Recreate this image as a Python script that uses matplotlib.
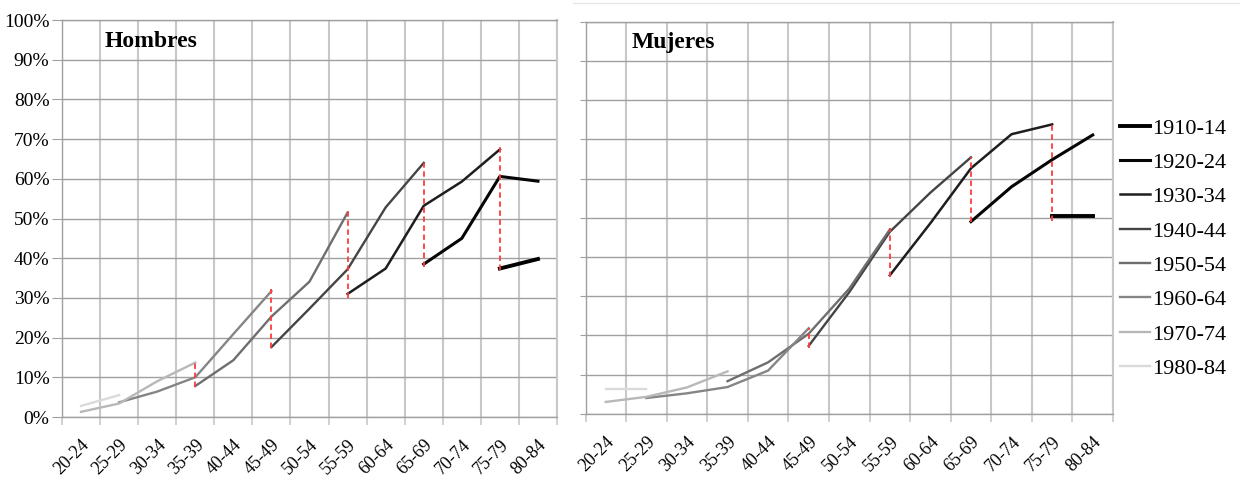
import numpy as np
import matplotlib.pyplot as plt
from matplotlib.lines import Line2D
from matplotlib.ticker import PercentFormatter
from matplotlib.transforms import ScaledTranslation

plt.rcParams['font.family'] = ['Liberation Serif', 'DejaVu Serif']

nan = np.nan

ages = ['20-24', '25-29', '30-34', '35-39', '40-44', '45-49', '50-54',
        '55-59', '60-64', '65-69', '70-74', '75-79', '80-84']
cohorts = ['1910-14', '1920-24', '1930-34', '1940-44',
           '1950-54', '1960-64', '1970-74', '1980-84']

# percentages per cohort, one value per age group (nan = not observed)
hombres = {
    '1910-14': [nan] * 11 + [37.4, 39.8],
    '1920-24': [nan] * 9 + [38.5, 45.0, 60.6, 59.4],
    '1930-34': [nan] * 7 + [31.0, 37.4, 53.2, 59.3, 67.4, nan],
    '1940-44': [nan] * 5 + [17.6, 27.3, 37.2, 52.8, 64.0] + [nan] * 3,
    '1950-54': [nan] * 3 + [7.8, 14.3, 25.3, 34.1, 51.5] + [nan] * 5,
    '1960-64': [nan] + [3.7, 6.4, 10.0, 20.9, 31.7] + [nan] * 7,
    '1970-74': [1.3, 3.4, 9.0, 13.7] + [nan] * 9,
    '1980-84': [2.8, 5.5] + [nan] * 11,
}
mujeres = {
    '1910-14': [nan] * 11 + [50.5, 50.5],
    '1920-24': [nan] * 9 + [49.0, 57.9, 64.8, 71.1],
    '1930-34': [nan] * 7 + [35.3, 48.6, 62.6, 71.3, 73.8, nan],
    '1940-44': [nan] * 5 + [17.3, 31.0, 46.4, 56.4, 65.4] + [nan] * 3,
    '1950-54': [nan] * 3 + [8.3, 13.1, 20.4, 31.9, 47.0] + [nan] * 5,
    '1960-64': [nan] + [4.0, 5.2, 6.8, 11.0, 21.8] + [nan] * 7,
    '1970-74': [3.0, 4.3, 6.7, 10.8] + [nan] * 9,
    '1980-84': [6.3, 6.3] + [nan] * 11,
}

# red dashed jumps: (age group, top, bottom)
h_breaks = [('35-39', 13.9, 7.5), ('45-49', 32.2, 17.5), ('55-59', 52.6, 30.1),
            ('65-69', 63.9, 37.9), ('75-79', 68.3, 37.0)]
m_breaks = [('45-49', 21.9, 16.7), ('55-59', 47.3, 35.0),
            ('65-69', 65.6, 48.8), ('75-79', 74.2, 49.2)]

colors = ['#000000', '#050505', '#1e1e1e', '#444444',
          '#6e6e6e', '#858585', '#b8b8b8', '#dadada']
widths = [2.8, 2.2, 1.8, 1.7, 1.7, 1.7, 1.7, 1.7]

hgrid = '#a0a0a0'
vgrid = '#c8c8c8'


def draw_panel(ax, data, breaks, title, ylabels=True):
    x = np.arange(len(ages))
    for c, col, lw in zip(cohorts, colors, widths):
        ax.plot(x, data[c], color=col, lw=lw, label=c, zorder=2)
    for age, top, bottom in breaks:
        i = ages.index(age)
        ax.vlines(i, bottom, top, colors='#ff3b3b', linestyles=(0, (3, 2)),
                  lw=1.3, zorder=3)
    ax.set_xlim(-0.5, len(ages) - 0.5)
    ax.set_ylim(0, 100)
    ax.set_yticks(np.arange(0, 101, 10))
    ax.yaxis.set_major_formatter(PercentFormatter(xmax=100, decimals=0))
    if not ylabels:
        ax.set_yticklabels([])
    ax.set_xticks(np.arange(len(ages) + 1) - 0.5)
    ax.set_xticklabels([])
    ax.set_xticks(x, minor=True)
    ax.set_xticklabels(ages, minor=True, rotation=45, ha='right', va='top',
                       rotation_mode='anchor', fontsize=13)
    # nudge rotated labels left so they end at the category centre
    shift = ScaledTranslation(-0.09, 0, ax.figure.dpi_scale_trans)
    for lab in ax.get_xticklabels(minor=True):
        lab.set_transform(lab.get_transform() + shift)
    ax.tick_params(axis='x', which='minor', length=0, pad=14)
    ax.tick_params(axis='x', which='major', length=6, color=vgrid, width=1.2)
    ax.tick_params(axis='y', length=7 if ylabels else 4, color=hgrid,
                   labelsize=14, pad=2)
    ax.grid(axis='y', color=hgrid, lw=1.0, zorder=0)
    ax.grid(axis='x', which='major', color=vgrid, lw=1.5, zorder=0)
    ax.set_axisbelow(True)
    for side in ['top', 'left', 'bottom']:
        ax.spines[side].set_color(hgrid)
        ax.spines[side].set_linewidth(1.0)
    ax.spines['right'].set_color(vgrid)
    ax.spines['right'].set_linewidth(1.5)
    ax.text(0.087, 0.932, title, transform=ax.transAxes, fontsize=17,
            fontweight='bold', va='baseline', ha='left')


fig = plt.figure(figsize=(12.4, 4.8), dpi=100)
ax1 = fig.add_axes([62 / 1240, 1 - 417 / 480, 495 / 1240, 397 / 480])
ax2 = fig.add_axes([585.5 / 1240, 1 - 413.7 / 480, 527.5 / 1240, 392 / 480])

draw_panel(ax1, hombres, h_breaks, 'Hombres')
draw_panel(ax2, mujeres, m_breaks, 'Mujeres', ylabels=False)

# faint frame line of the second chart
fig.add_artist(Line2D([573 / 1240, 1], [1 - 3 / 480, 1 - 3 / 480],
                      transform=fig.transFigure, color='#e6e6e6', lw=1))

handles, labels = ax2.get_legend_handles_labels()
fig.legend(handles, labels, loc='upper left',
           bbox_to_anchor=(1120 / 1240, 1 - 118 / 480), frameon=False,
           fontsize=16, handlelength=1.35, handletextpad=0.1,
           labelspacing=0.62, borderaxespad=0, borderpad=0)

fig.savefig('out.png', dpi=100)
